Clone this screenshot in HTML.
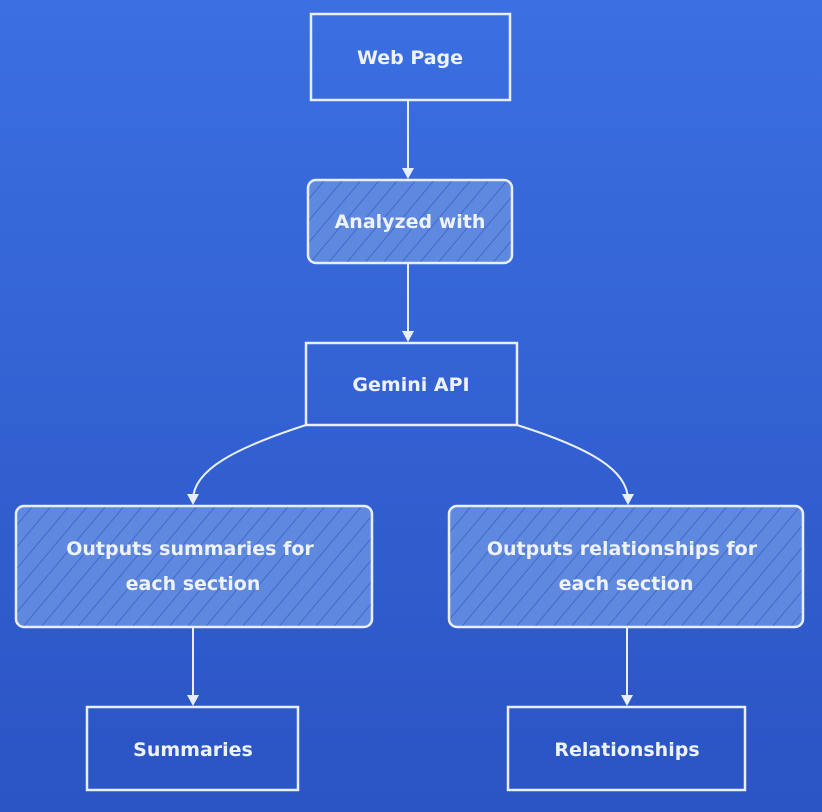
<!DOCTYPE html>
<html><head><style>
html,body{margin:0;padding:0;width:822px;height:812px;overflow:hidden}
text{font-family:"DejaVu Sans","Liberation Sans",sans-serif;fill:#eef2fb;font-size:19px;font-weight:bold;text-anchor:middle}
</style></head><body>
<svg width="822" height="812" viewBox="0 0 822 812">
<defs>
<linearGradient id="bg" x1="0" y1="0" x2="0" y2="1">
<stop offset="0" stop-color="#3b6fe2"/><stop offset="1" stop-color="#2b54c4"/>
</linearGradient>
<pattern id="h" width="14" height="14" patternUnits="userSpaceOnUse" patternTransform="rotate(40)">
<rect width="14" height="14" fill="#5f88df"/>
<line x1="0" y1="0" x2="0" y2="14" stroke="#3560c8" stroke-width="1.5"/>
</pattern>
</defs>
<rect width="822" height="812" fill="url(#bg)"/>
<g fill="none" stroke="#e8eefc" stroke-width="2.5">
<rect x="311" y="14" width="199" height="86"/>
<rect x="308" y="180" width="204" height="83" rx="8" fill="url(#h)"/>
<rect x="306" y="343" width="211" height="82"/>
<rect x="16" y="506" width="356" height="121" rx="8" fill="url(#h)"/>
<rect x="449" y="506" width="354" height="121" rx="8" fill="url(#h)"/>
<rect x="87" y="707" width="211" height="83"/>
<rect x="508" y="707" width="237" height="83"/>
<path d="M408 100V176M408 263V339M193 627V702M627 627V702" stroke-width="2"/>
<path d="M306 425 C235 448 193 470 193 500" stroke-width="2"/>
<path d="M517 425 C590 448 628 470 628 500" stroke-width="2"/>
</g>
<g fill="#e8eefc">
<path d="M402 168 L414 168 L408 179Z"/>
<path d="M402 331 L414 331 L408 342Z"/>
<path d="M187 494 L199 494 L193 505Z"/>
<path d="M622 494 L634 494 L628 505Z"/>
<path d="M187 695 L199 695 L193 706Z"/>
<path d="M621 695 L633 695 L627 706Z"/>
</g>
<text x="410" y="64">Web Page</text>
<text x="410" y="228">Analyzed with</text>
<text x="411" y="391">Gemini API</text>
<text x="190" y="555">Outputs summaries for</text>
<text x="193" y="590">each section</text>
<text x="622" y="555">Outputs relationships for</text>
<text x="626" y="590">each section</text>
<text x="193" y="756">Summaries</text>
<text x="627" y="756">Relationships</text>
</svg>
</body></html>
